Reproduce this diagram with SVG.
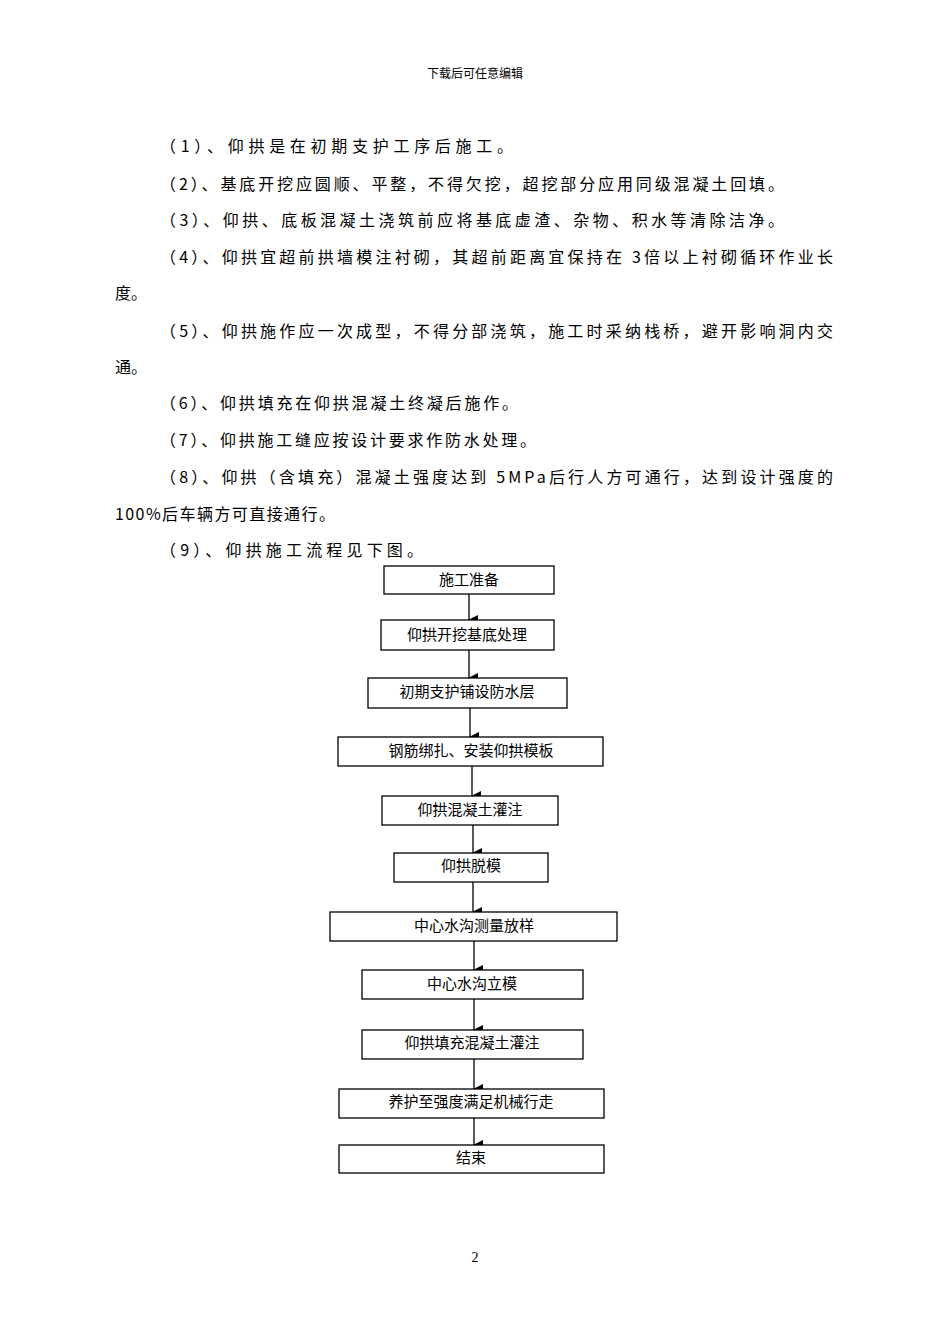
<svg xmlns="http://www.w3.org/2000/svg" width="950" height="1344" viewBox="0 0 950 1344">
<style>
.t{font-family:"Noto Sans CJK SC","Liberation Serif",serif;font-size:16px;fill:#000}
.b{fill:#fff;stroke:#000;stroke-width:1.3}
.n{font-family:"Noto Sans CJK SC",sans-serif;font-size:15px;text-anchor:middle;fill:#000}
.c line{stroke:#000;stroke-width:1.3}
</style>
<defs><marker id="a" markerWidth="10" markerHeight="10" refX="5" refY="9" orient="auto" markerUnits="userSpaceOnUse"><path d="M0,0L10,0L5,10z" fill="#000"/></marker></defs>
<rect width="950" height="1344" fill="#fff"/>
<text x="475" y="78" text-anchor="middle" style="font-family:'Noto Sans CJK SC',sans-serif;font-size:12px">下载后可任意编辑</text>
<text class="t" x="160" y="152" textLength="353" lengthAdjust="spacing">（1）、仰拱是在初期支护工序后施工。</text>
<text class="t" x="160" y="190" textLength="624" lengthAdjust="spacing">（2）、基底开挖应圆顺、平整，不得欠挖，超挖部分应用同级混凝土回填。</text>
<text class="t" x="160" y="226" textLength="624" lengthAdjust="spacing">（3）、仰拱、底板混凝土浇筑前应将基底虚渣、杂物、积水等清除洁净。</text>
<text class="t" x="160" y="263" textLength="673" lengthAdjust="spacing">（4）、仰拱宜超前拱墙模注衬砌，其超前距离宜保持在 3倍以上衬砌循环作业长</text>
<text class="t" x="115" y="299">度。</text>
<text class="t" x="160" y="337" textLength="673" lengthAdjust="spacing">（5）、仰拱施作应一次成型，不得分部浇筑，施工时采纳栈桥，避开影响洞内交</text>
<text class="t" x="115" y="373">通。</text>
<text class="t" x="160" y="409" textLength="358" lengthAdjust="spacing">（6）、仰拱填充在仰拱混凝土终凝后施作。</text>
<text class="t" x="160" y="446" textLength="376" lengthAdjust="spacing">（7）、仰拱施工缝应按设计要求作防水处理。</text>
<text class="t" x="160" y="483" textLength="673" lengthAdjust="spacing">（8）、仰拱（含填充）混凝土强度达到 5MPa后行人方可通行，达到设计强度的</text>
<text class="t" x="115" y="520" textLength="220" lengthAdjust="spacing">100%后车辆方可直接通行。</text>
<text class="t" x="160" y="556" textLength="263" lengthAdjust="spacing">（9）、仰拱施工流程见下图。</text>
<g class="c">
<line x1="469" y1="594" x2="469" y2="620" marker-end="url(#a)"/>
<line x1="469" y1="650" x2="469" y2="678" marker-end="url(#a)"/>
<line x1="470" y1="708" x2="470" y2="737" marker-end="url(#a)"/>
<line x1="472" y1="766" x2="472" y2="796" marker-end="url(#a)"/>
<line x1="473" y1="825" x2="473" y2="853" marker-end="url(#a)"/>
<line x1="473" y1="882" x2="473" y2="912" marker-end="url(#a)"/>
<line x1="474" y1="941" x2="474" y2="970" marker-end="url(#a)"/>
<line x1="474" y1="999" x2="474" y2="1030" marker-end="url(#a)"/>
<line x1="474" y1="1059" x2="474" y2="1089" marker-end="url(#a)"/>
<line x1="474" y1="1118" x2="474" y2="1145" marker-end="url(#a)"/>
</g>
<g id="n1"><rect class="b" x="384" y="566" width="170" height="28"/><text class="n" x="469" y="585">施工准备</text></g>
<g id="n2"><rect class="b" x="381" y="620" width="173" height="30"/><text class="n" x="467" y="640">仰拱开挖基底处理</text></g>
<g id="n3"><rect class="b" x="368" y="678" width="199" height="30"/><text class="n" x="467" y="697">初期支护铺设防水层</text></g>
<g id="n4"><rect class="b" x="338" y="737" width="265" height="29"/><text class="n" x="471" y="756">钢筋绑扎、安装仰拱模板</text></g>
<g id="n5"><rect class="b" x="382" y="796" width="176" height="29"/><text class="n" x="470" y="815">仰拱混凝土灌注</text></g>
<g id="n6"><rect class="b" x="394" y="853" width="154" height="29"/><text class="n" x="471" y="871">仰拱脱模</text></g>
<g id="n7"><rect class="b" x="330" y="912" width="287" height="29"/><text class="n" x="474" y="931">中心水沟测量放样</text></g>
<g id="n8"><rect class="b" x="362" y="970" width="221" height="29"/><text class="n" x="472" y="989">中心水沟立模</text></g>
<g id="n9"><rect class="b" x="362" y="1030" width="221" height="29"/><text class="n" x="472" y="1048">仰拱填充混凝土灌注</text></g>
<g id="n10"><rect class="b" x="339" y="1089" width="265" height="29"/><text class="n" x="471" y="1107">养护至强度满足机械行走</text></g>
<g id="n11"><rect class="b" x="339" y="1145" width="265" height="28"/><text class="n" x="471" y="1163">结束</text></g>
<text x="475" y="1262" text-anchor="middle" style="font-family:'Liberation Serif',serif;font-size:14px">2</text>
</svg>
